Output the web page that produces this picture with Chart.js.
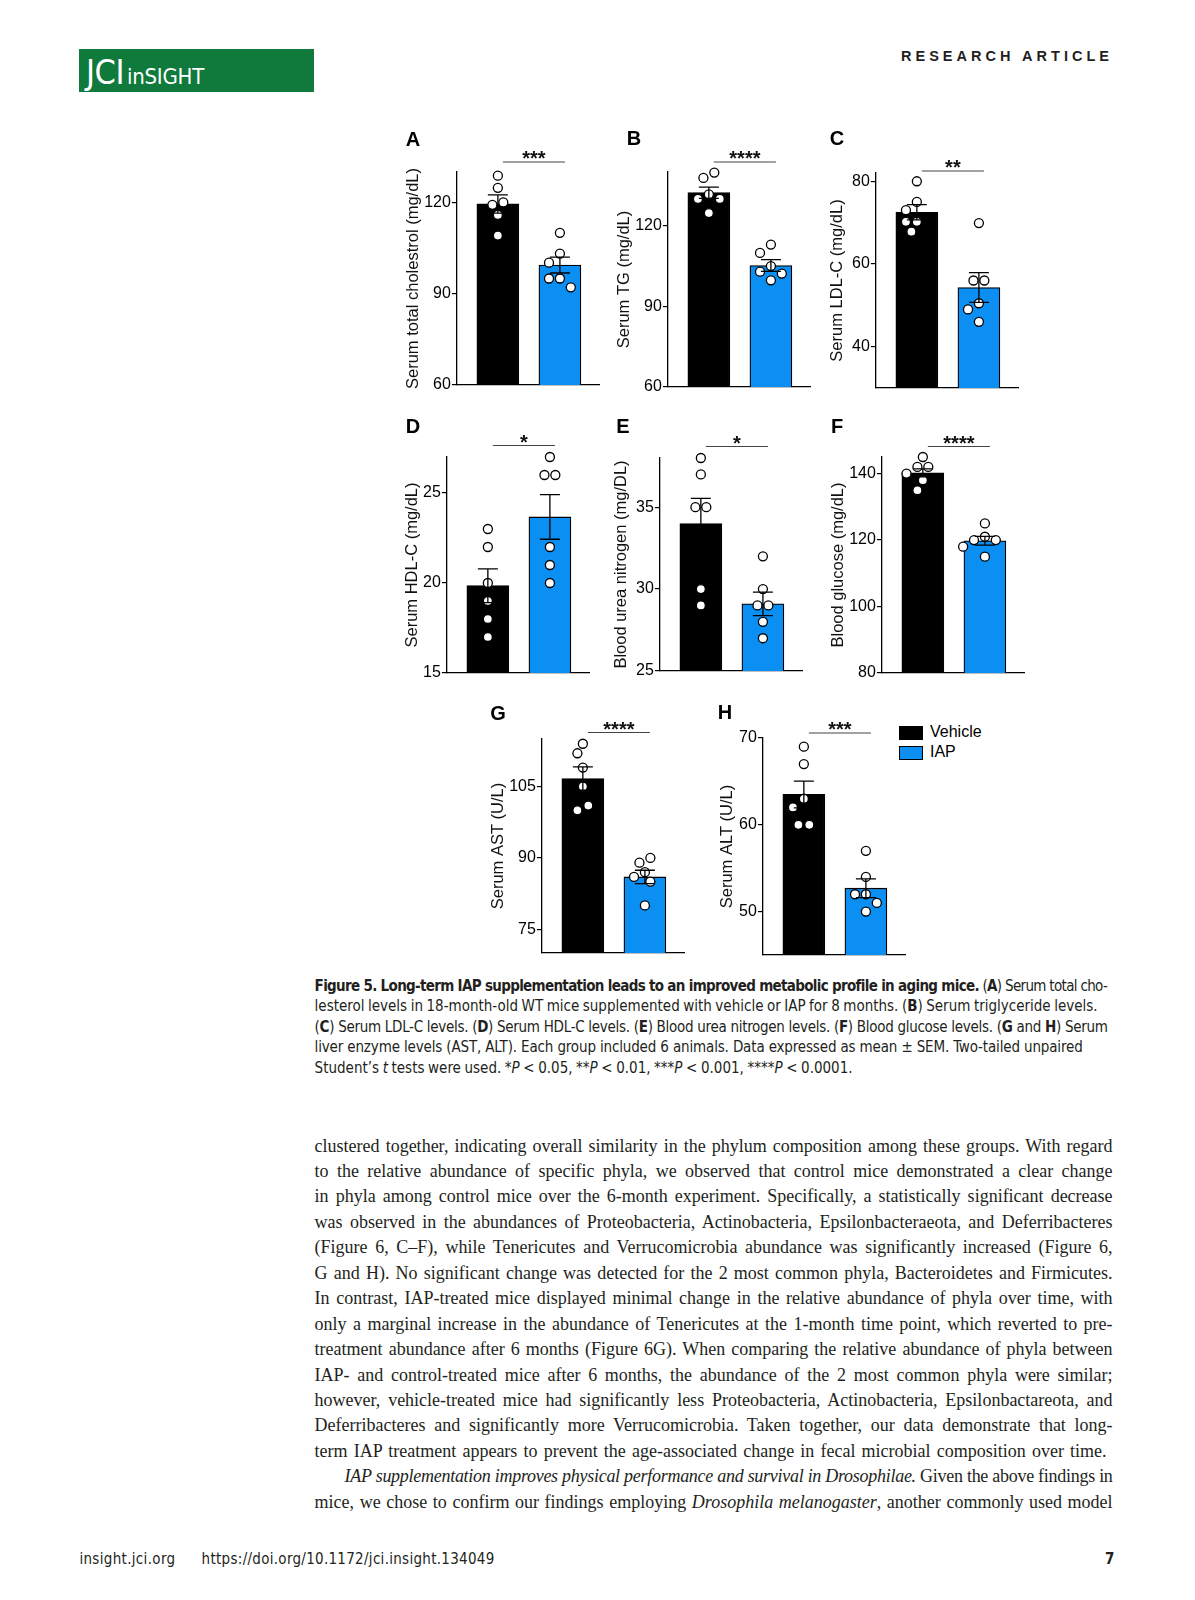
<!DOCTYPE html>
<html>
<head>
<meta charset="utf-8">
<script src="https://cdn.jsdelivr.net/npm/chart.js@4.4.1/dist/chart.umd.min.js"></script>
<style>
body { margin: 0; background: #fff; }
#page { position: relative; width: 1195px; height: 1600px; overflow: hidden; background: #fff; color: #231f20; }
.abs { position: absolute; white-space: nowrap; }
.cond { font-family: 'Liberation Sans Narrow', 'DejaVu Sans Condensed', 'Roboto', sans-serif; font-stretch: condensed; }
.letter { font: bold 20px 'Liberation Sans', Arial, sans-serif; transform: translate(-50%, -50%); line-height: 1; color: #000; }
.cap { left: 314.6px; top: 976px; font-size: 15px; line-height: 20.4px; }
.cap div, .txt div { white-space: nowrap; }
.txt { left: 314.6px; top: 1133.5px; font-family: 'Liberation Serif', 'Times New Roman', serif; font-size: 18px; line-height: 25.45px; }
.legend { font: 16px 'Liberation Sans', Arial, sans-serif; color: #000; }
.sw { position: absolute; width: 22px; height: 12px; border: 1px solid #000; }
</style>
</head>
<body>
<div id="page">
  <div class="abs" style="left:79px;top:49px;width:235px;height:43px;background:#0f7a3c"></div>
  <div class="abs cond" style="left:86px;top:55px;line-height:34px;color:#fff"><span data-fit="38" style="font-size:34px">JCI</span><span data-fit="77" style="font-size:22px;margin-left:3px">inSIGHT</span></div>
  <div class="abs" style="left:901px;top:48px;font:bold 14.5px 'Liberation Sans', Arial, sans-serif;line-height:16px"><span data-fit="212">RESEARCH ARTICLE</span></div>

  <div id="legend" class="abs legend" style="left:899px;top:725px"></div>

  <div class="abs cond cap">
    <div><span data-fit="792" data-mode="word"><b>Figure 5. Long-term IAP supplementation leads to an improved metabolic profile in aging mice.</b> (<b>A</b>) Serum total cho-</span></div>
    <div><span data-fit="783" data-mode="word">lesterol levels in 18-month-old WT mice supplemented with vehicle or IAP for 8 months. (<b>B</b>) Serum triglyceride levels.</span></div>
    <div><span data-fit="793" data-mode="word">(<b>C</b>) Serum LDL-C levels. (<b>D</b>) Serum HDL-C levels. (<b>E</b>) Blood urea nitrogen levels. (<b>F</b>) Blood glucose levels. (<b>G</b> and <b>H</b>) Serum</span></div>
    <div><span data-fit="768" data-mode="word">liver enzyme levels (AST, ALT). Each group included 6 animals. Data expressed as mean ± SEM. Two-tailed unpaired</span></div>
    <div><span data-fit="538" data-mode="word">Student’s <i>t</i> tests were used. *<i>P</i> &lt; 0.05, **<i>P</i> &lt; 0.01, ***<i>P</i> &lt; 0.001, ****<i>P</i> &lt; 0.0001.</span></div>
  </div>

  <div class="abs txt">
    <div><span data-fit="798" data-mode="word">clustered together, indicating overall similarity in the phylum composition among these groups. With regard</span></div>
    <div><span data-fit="798" data-mode="word">to the relative abundance of specific phyla, we observed that control mice demonstrated a clear change</span></div>
    <div><span data-fit="798" data-mode="word">in phyla among control mice over the 6-month experiment. Specifically, a statistically significant decrease</span></div>
    <div><span data-fit="798" data-mode="word">was observed in the abundances of Proteobacteria, Actinobacteria, Epsilonbacteraeota, and Deferribacteres</span></div>
    <div><span data-fit="798" data-mode="word">(Figure 6, C–F), while Tenericutes and Verrucomicrobia abundance was significantly increased (Figure 6,</span></div>
    <div><span data-fit="798" data-mode="word">G and H). No significant change was detected for the 2 most common phyla, Bacteroidetes and Firmicutes.</span></div>
    <div><span data-fit="798" data-mode="word">In contrast, IAP-treated mice displayed minimal change in the relative abundance of phyla over time, with</span></div>
    <div><span data-fit="798" data-mode="word">only a marginal increase in the abundance of Tenericutes at the 1-month time point, which reverted to pre-</span></div>
    <div><span data-fit="798" data-mode="word">treatment abundance after 6 months (Figure 6G). When comparing the relative abundance of phyla between</span></div>
    <div><span data-fit="798" data-mode="word">IAP- and control-treated mice after 6 months, the abundance of the 2 most common phyla were similar;</span></div>
    <div><span data-fit="798" data-mode="word">however, vehicle-treated mice had significantly less Proteobacteria, Actinobacteria, Epsilonbactareota, and</span></div>
    <div><span data-fit="798" data-mode="word">Deferribacteres and significantly more Verrucomicrobia. Taken together, our data demonstrate that long-</span></div>
    <div><span data-fit="792" data-mode="word">term IAP treatment appears to prevent the age-associated change in fecal microbial composition over time.</span></div>
    <div style="padding-left:30px"><span data-fit="768" data-mode="word"><i>IAP supplementation improves physical performance and survival in Drosophilae.</i> Given the above findings in</span></div>
    <div><span data-fit="798" data-mode="word">mice, we chose to confirm our findings employing <i>Drosophila melanogaster</i>, another commonly used model</span></div>
  </div>

  <div class="abs cond" style="left:79.4px;top:1550px;font-size:15px;line-height:18px"><span data-fit="96">insight.jci.org</span></div>
  <div class="abs cond" style="left:201.6px;top:1550px;font-size:15px;line-height:18px"><span data-fit="293">https://doi.org/10.1172/jci.insight.134049</span></div>
  <div class="abs cond" style="left:1105px;top:1550px;font-size:15px;line-height:18px;font-weight:bold">7</div>
</div>

<script>
// values
const groups = ['Vehicle', 'IAP'];
const groupColors = ['#000000', '#0b8ff2'];
const panelLetters = ['A', 'B', 'C', 'D', 'E', 'F', 'G', 'H'];
const yTitles = ['Serum total cholestrol (mg/dL)', 'Serum TG (mg/dL)', 'Serum LDL-C (mg/dL)', 'Serum HDL-C (mg/dL)',
  'Blood urea nitrogen (mg/DL)', 'Blood glucose (mg/dL)', 'Serum AST (U/L)', 'Serum ALT (U/L)'];
const yTicks = [[60, 90, 120], [60, 90, 120], [40, 60, 80], [15, 20, 25], [25, 30, 35], [80, 100, 120, 140], [75, 90, 105], [50, 60, 70]];
const yMin = [60, 60, 30, 15, 25, 80, 70, 45];
const yMax = [130, 140, 82, 27, 38, 145, 115, 70];
const vehicleMean = [119.5, 132.3, 72.5, 19.85, 34.0, 140.2, 106.7, 63.5];
const vehicleSem = [3.0, 2.1, 1.85, 0.94, 1.54, 1.2, 2.44, 1.54];
const iapMean = [99.4, 105.2, 54.3, 23.67, 29.1, 119.8, 86.0, 52.7];
const iapSem = [2.6, 2.2, 3.6, 1.24, 0.72, 1.3, 1.4, 1.08];
const vehiclePoints = [
  [128.8, 124.8, 120.0, 119.2, 115.9, 109.1],
  [139.8, 137.8, 131.7, 130.0, 130.0, 124.7],
  [80, 75, 73, 70.2, 70.2, 67.8],
  [23, 22, 20, 19, 18, 17],
  [38, 37, 35, 35, 30, 29],
  [145, 142, 142, 140, 138, 135],
  [114, 112, 109, 105, 101, 100],
  [69, 67, 63, 62, 60, 60]
];
const iapPoints = [
  [110.0, 103.2, 100.2, 95.0, 95.0, 92.1],
  [113.0, 109.9, 105.0, 102.9, 102.2, 99.7],
  [69.9, 56, 56, 50.5, 49, 46],
  [27, 26, 26, 22, 21, 20],
  [32, 30, 29, 29, 28, 27],
  [125, 121, 120, 120, 118, 115],
  [90, 89, 87, 86, 85, 80],
  [57, 54, 52, 52, 51, 50]
];
const stars = ['***', '****', '**', '*', '*', '****', '****', '***'];

// where each panel sits on the page (axis corner, plot top/bottom)
const panelBox = [
  { axisX: 457, top: 172, bottom: 385, titleGap: 43, sigGap: 10, letter: [413, 139] },
  { axisX: 668, top: 172, bottom: 387, titleGap: 43, sigGap: 10, letter: [634, 138] },
  { axisX: 876, top: 173, bottom: 388, titleGap: 38, sigGap: 2, letter: [837, 138] },
  { axisX: 447, top: 457, bottom: 673, titleGap: 34, sigGap: 11.5, letter: [413, 426] },
  { axisX: 660, top: 458, bottom: 671, titleGap: 38, sigGap: 11.5, letter: [623, 426] },
  { axisX: 882, top: 457, bottom: 673, titleGap: 43, sigGap: 10.5, letter: [837, 426] },
  { axisX: 542, top: 739, bottom: 953, titleGap: 43, sigGap: 6.5, letter: [498, 713] },
  { axisX: 763, top: 738, bottom: 955, titleGap: 35, sigGap: 5, letter: [725, 712] }
];

Chart.defaults.font.family = "'Liberation Sans', Arial, sans-serif";
const page = document.getElementById('page');
const plotW = 142, padTop = 50, padBottom = 12, padRight = 12;
const titleSize = 16.5;

// spread the dots sideways so they don't overlap
const swarmPlugin = {
  id: 'swarm',
  beforeDatasetsDraw(chart) {
    const xs = chart.scales.x;
    chart.data.datasets.forEach((ds, di) => {
      if (ds.type !== 'scatter') return;
      const pts = chart.getDatasetMeta(di).data;
      const base = xs.getPixelForValue(ds.data[0].x);
      const d = 2 * ds.pointRadius + ds.pointBorderWidth + 0.6;
      const order = pts.map((p, k) => k).sort((a, b) => pts[a].y - pts[b].y);
      const placed = [];
      order.forEach(k => {
        const p = pts[k];
        for (let step = 0; step < 30; step++) {
          const off = (step % 2 ? -1 : 1) * Math.ceil(step / 2) * d / 2;
          const cx = base + off;
          if (placed.every(q => Math.hypot(q.x - cx, q.y - p.y) >= d)) {
            placed.push({ el: p, x: cx, y: p.y });
            break;
          }
        }
      });
      // two dots side by side at one level: centre the pair
      placed.forEach(a => {
        if (Math.abs(a.x - base) > 0.01) return;
        const row = placed.filter(b => Math.abs(b.y - a.y) < d * 0.5);
        if (row.length !== 2) return;
        const b = row[0] === a ? row[1] : row[0];
        const s = Math.sign(b.x - base);
        const na = base - s * d / 2, nb = base + s * d / 2;
        const others = placed.filter(q => q !== a && q !== b);
        if (others.every(q => Math.hypot(q.x - na, q.y - a.y) >= d && Math.hypot(q.x - nb, q.y - b.y) >= d)) {
          a.x = na;
          b.x = nb;
        }
      });
      placed.forEach(q => { q.el.x = q.x; });
    });
  }
};

function makePanel(i) {
  const box = panelBox[i];
  const yw = box.titleGap + titleSize * 0.6;
  const cw = Math.round(yw + plotW + padRight);
  const ch = padTop + (box.bottom - box.top) + padBottom;
  const canvas = document.createElement('canvas');
  canvas.width = cw;
  canvas.height = ch;
  canvas.style.cssText = 'position:absolute;left:' + (box.axisX - yw) + 'px;top:' + (box.top - padTop) + 'px;width:' + cw + 'px;height:' + ch + 'px';
  page.appendChild(canvas);

  const letter = document.createElement('div');
  letter.className = 'abs letter';
  letter.style.left = box.letter[0] + 'px';
  letter.style.top = box.letter[1] + 'px';
  letter.textContent = panelLetters[i];
  page.appendChild(letter);

  const means = [vehicleMean[i], iapMean[i]];
  const sems = [vehicleSem[i], iapSem[i]];

  const extras = {
    id: 'extras',
    afterDatasetsDraw(chart) {
      const { ctx, scales: { x, y } } = chart;
      ctx.save();
      ctx.strokeStyle = '#000';
      ctx.lineWidth = 1.3;
      means.forEach((m, g) => {
        const px = x.getPixelForValue(g + 1);
        const hi = y.getPixelForValue(m + sems[g]);
        const lo = y.getPixelForValue(m - sems[g]);
        ctx.beginPath();
        ctx.moveTo(px, hi); ctx.lineTo(px, lo);
        ctx.moveTo(px - 10, hi); ctx.lineTo(px + 10, hi);
        ctx.moveTo(px - 10, lo); ctx.lineTo(px + 10, lo);
        ctx.stroke();
      });
      ctx.restore();
    },
    afterDraw(chart) {
      const { ctx, chartArea, scales: { x } } = chart;
      const x1 = x.getPixelForValue(1) + 5, x2 = x.getPixelForValue(2) + 5;
      const ly = chartArea.top - box.sigGap;
      ctx.save();
      ctx.strokeStyle = '#444';
      ctx.lineWidth = 1.1;
      ctx.beginPath();
      ctx.moveTo(x1, ly); ctx.lineTo(x2, ly);
      ctx.stroke();
      ctx.fillStyle = '#111';
      ctx.font = "bold 20px 'Liberation Sans', Arial, sans-serif";
      ctx.textAlign = 'center';
      ctx.textBaseline = 'alphabetic';
      ctx.fillText(stars[i], (x1 + x2) / 2, ly + 3);
      ctx.restore();
    }
  };

  const pointStyle = {
    type: 'scatter', pointRadius: 4.5, pointBorderWidth: 1.3, pointBackgroundColor: '#fff',
    pointBorderColor: '#000', clip: false, order: 1
  };

  new Chart(canvas, {
    type: 'bar',
    data: {
      datasets: [
        {
          type: 'bar', label: 'mean',
          data: means.map((m, g) => ({ x: g + 1, y: m })),
          backgroundColor: groupColors, borderColor: '#000', borderWidth: 1.3,
          barThickness: 42, order: 3
        },
        Object.assign({ label: groups[0], data: vehiclePoints[i].map(v => ({ x: 1, y: v })) }, pointStyle),
        Object.assign({ label: groups[1], data: iapPoints[i].map(v => ({ x: 2, y: v })) }, pointStyle)
      ]
    },
    options: {
      responsive: false,
      animation: false,
      layout: { padding: { top: padTop, right: padRight, bottom: padBottom, left: 0 } },
      plugins: { legend: { display: false }, tooltip: { enabled: false } },
      scales: {
        x: {
          type: 'linear', min: 0.34, max: 2.63, offset: false,
          ticks: { display: false }, grid: { display: false },
          border: { color: '#000', width: 1.3 },
          afterFit: s => { s.height = 0; }
        },
        y: {
          type: 'linear', min: yMin[i], max: yMax[i],
          afterBuildTicks: s => { s.ticks = yTicks[i].map(v => ({ value: v })); },
          ticks: { font: { size: 16 }, color: '#000', padding: 1 },
          grid: { drawOnChartArea: false, drawTicks: true, tickLength: 5, color: '#000', lineWidth: 1.2 },
          border: { color: '#000', width: 1.3 },
          title: { display: true, text: yTitles[i], font: { size: titleSize }, color: '#111', padding: 0 },
          afterFit: s => { s.width = yw; }
        }
      }
    },
    plugins: [swarmPlugin, extras]
  });
}

for (let i = 0; i < panelLetters.length; i++) makePanel(i);

// legend
const legend = document.getElementById('legend');
groups.forEach((g, k) => {
  const sw = document.createElement('div');
  sw.className = 'sw';
  sw.style.left = '0px';
  sw.style.top = (k * 20 + 1) + 'px';
  sw.style.background = groupColors[k];
  legend.appendChild(sw);
  const t = document.createElement('div');
  t.className = 'abs';
  t.style.left = '31px';
  t.style.top = (k * 20 - 2) + 'px';
  t.style.lineHeight = '18px';
  t.textContent = g;
  legend.appendChild(t);
});

// stretch text lines to the widths they have on the page
function fitText() {
  document.querySelectorAll('[data-fit]').forEach(el => {
    const target = +el.dataset.fit;
    const natural = el.getBoundingClientRect().width;
    const gaps = (el.textContent.match(/ /g) || []).length;
    const perGap = gaps ? (target - natural) / gaps : 0;
    if (el.dataset.mode === 'word' && perGap > -0.8) {
      el.style.wordSpacing = perGap + 'px';
    } else {
      el.style.letterSpacing = ((target - natural) / el.textContent.length) + 'px';
    }
  });
}
if (document.fonts && document.fonts.ready) document.fonts.ready.then(fitText); else fitText();
</script>
</body>
</html>
